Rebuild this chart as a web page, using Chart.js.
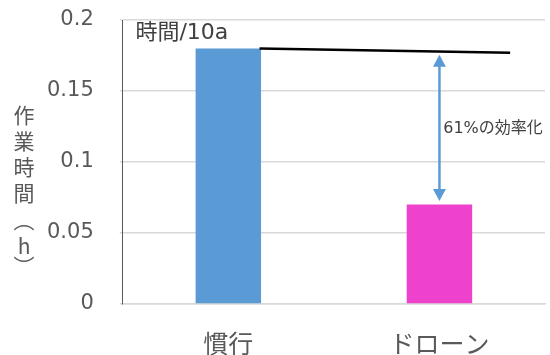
<!DOCTYPE html>
<html>
<head>
<meta charset="utf-8">
<script src="https://cdn.jsdelivr.net/npm/chart.js@4/dist/chart.umd.min.js"></script>
<style>
  html, body { margin: 0; padding: 0; background: #fff; }
  #wrap { width: 550px; height: 355px; position: relative; }
</style>
</head>
<body>
<div id="wrap"><canvas id="chart" width="550" height="355"></canvas></div>
<script>
var categories = ['慣行', 'ドローン'];
var hours = [0.18, 0.07];
var barColors = ['#5B9BD5', '#EE42CC'];

// reference line for 時間/10a, x given in category-index units
var refLineX = [0.148, 1.335];
var refLineY = [0.18, 0.177];

// double arrow between the reference line and the drone bar
var arrowX = 1.0;
var arrowFrom = 0.1755;
var arrowTo = 0.0725;

var yTicks = [0, 0.05, 0.1, 0.15, 0.2];
var yTitle = ['作', '業', '時', '間', '︵', 'h', '︶'];

var CJK = '"Noto Sans CJK JP", sans-serif';
var LATIN = '"DejaVu Sans", "Noto Sans CJK JP", sans-serif';

var annotations = {
  id: 'annotations',
  afterDatasetsDraw: function(chart) {
    var ctx = chart.ctx;
    var xs = chart.scales.xl;
    var ys = chart.scales.y;

    // arrow
    var ax = xs.getPixelForValue(arrowX);
    var top = ys.getPixelForValue(arrowFrom);
    var bot = ys.getPixelForValue(arrowTo);
    var head = 12, half = 6.5;
    ctx.save();
    ctx.strokeStyle = '#5B9BD5';
    ctx.fillStyle = '#5B9BD5';
    ctx.lineWidth = 2.5;
    ctx.beginPath();
    ctx.moveTo(ax, top + head - 1);
    ctx.lineTo(ax, bot - head + 1);
    ctx.stroke();
    ctx.beginPath();
    ctx.moveTo(ax, top);
    ctx.lineTo(ax - half, top + head);
    ctx.lineTo(ax + half, top + head);
    ctx.closePath();
    ctx.fill();
    ctx.beginPath();
    ctx.moveTo(ax, bot);
    ctx.lineTo(ax - half, bot - head);
    ctx.lineTo(ax + half, bot - head);
    ctx.closePath();
    ctx.fill();

    // labels
    ctx.textBaseline = 'middle';
    ctx.textAlign = 'left';
    ctx.fillStyle = '#404040';
    ctx.font = '16px ' + LATIN;
    ctx.fillText('61%の効率化', xs.getPixelForValue(1.018), ys.getPixelForValue(0.123));
    ctx.font = '22px ' + LATIN;
    ctx.fillText('時間/10a', xs.getPixelForValue(-0.44), ys.getPixelForValue(0.1908));

    // vertical axis title, one glyph per row
    ctx.fillStyle = '#595959';
    ctx.font = '21px ' + CJK;
    ctx.textAlign = 'center';
    var rows = [115, 141, 167, 193, 220, 246, 266];
    for (var i = 0; i < yTitle.length; i++) {
      ctx.fillText(yTitle[i], 24, rows[i]);
    }
    ctx.restore();
  }
};

new Chart(document.getElementById('chart'), {
  data: {
    labels: categories,
    datasets: [
      {
        type: 'bar',
        data: hours,
        backgroundColor: barColors,
        barPercentage: 0.31,
        categoryPercentage: 1.0,
        grouped: false,
        xAxisID: 'x',
        order: 2
      },
      {
        type: 'line',
        data: refLineX.map(function(x, i) { return {x: x, y: refLineY[i]}; }),
        borderColor: '#000',
        borderWidth: 2.5,
        pointRadius: 0,
        xAxisID: 'xl',
        order: 1
      }
    ]
  },
  options: {
    responsive: false,
    animation: false,
    devicePixelRatio: 1,
    layout: { padding: { left: 21, right: 5, top: 0, bottom: -27 } },
    plugins: { legend: { display: false }, tooltip: { enabled: false } },
    scales: {
      x: {
        type: 'category',
        offset: true,
        grid: { display: false, drawTicks: false },
        border: { color: '#d9d9d9', width: 1.5 },
        ticks: { color: '#595959', font: { family: CJK, size: 25 }, padding: 24, maxRotation: 0 }
      },
      xl: {
        type: 'linear',
        display: false,
        min: -0.5,
        max: 1.5
      },
      y: {
        min: 0,
        max: 0.2,
        afterBuildTicks: function(axis) {
          axis.ticks = yTicks.map(function(v) { return {value: v}; });
        },
        afterFit: function(axis) {
          axis.paddingTop = 20;
          axis.paddingBottom = 0;
        },
        grid: { color: '#d9d9d9', lineWidth: 1.5, tickLength: 3 },
        border: { color: '#595959', width: 1 },
        ticks: {
          color: '#595959',
          font: { family: LATIN, size: 21 },
          padding: 26,
          callback: function(v) { return String(v); }
        }
      }
    }
  },
  plugins: [annotations]
});
</script>
</body>
</html>
